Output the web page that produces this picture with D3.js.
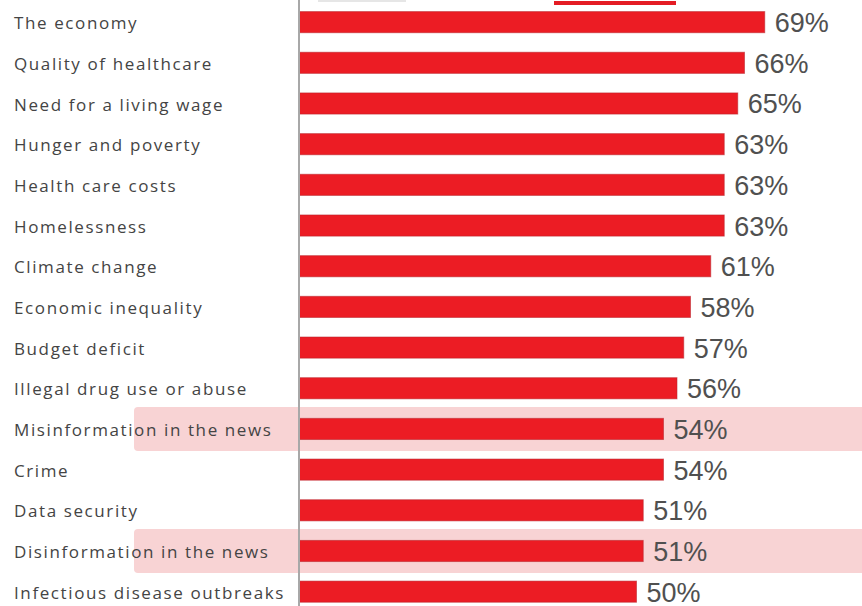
<!DOCTYPE html>
<html>
<head>
<meta charset="utf-8">
<script src="https://cdn.jsdelivr.net/npm/d3@7"></script>
<style>
  html, body { margin: 0; padding: 0; background: #fff; }
  svg { display: block; }
</style>
</head>
<body>
<svg id="chart" width="862" height="606"></svg>
<script>
// Issue list, top to bottom, with the share of respondents concerned (%)
const categories = [
  "The economy",
  "Quality of healthcare",
  "Need for a living wage",
  "Hunger and poverty",
  "Health care costs",
  "Homelessness",
  "Climate change",
  "Economic inequality",
  "Budget deficit",
  "Illegal drug use or abuse",
  "Misinformation in the news",
  "Crime",
  "Data security",
  "Disinformation in the news",
  "Infectious disease outbreaks"
];
const values = [69, 66, 65, 63, 63, 63, 61, 58, 57, 56, 54, 54, 51, 51, 50];
const highlighted = ["Misinformation in the news", "Disinformation in the news"];
const valueSuffix = "%";

const width = 862, height = 606;
const axisX = 299;
const labelX = 14;

const svg = d3.select("#chart");

const rows = categories.map((c, i) => ({ category: c, value: values[i] }));

const x = d3.scaleLinear().domain([0, 100]).range([axisX, axisX + 675]);
const y = d3.scaleBand().domain(categories).range([1.8, 612]).padding(0);
const barH = y.bandwidth() * 0.52;

// highlight strips behind the two news-related rows
svg.append("g")
  .selectAll("rect")
  .data(rows.filter(d => highlighted.includes(d.category)))
  .join("rect")
  .attr("x", 134)
  .attr("y", d => y(d.category) + y.bandwidth() / 2 - 22)
  .attr("width", width - 134 + 10)
  .attr("height", 44)
  .attr("rx", 4)
  .attr("fill", "#f8d3d4");

// short strokes along the top edge
svg.append("rect")
  .attr("x", 554).attr("y", 1).attr("width", 122).attr("height", 4)
  .attr("fill", "#e41c24");
svg.append("rect")
  .attr("x", 318).attr("y", 0).attr("width", 88).attr("height", 2)
  .attr("fill", "#e6e6e6");

// bars
svg.append("g")
  .selectAll("rect")
  .data(rows)
  .join("rect")
  .attr("x", x(0))
  .attr("y", d => y(d.category) + (y.bandwidth() - barH) / 2)
  .attr("width", d => x(d.value) - x(0))
  .attr("height", barH)
  .attr("fill", "#ec1c24")
  .attr("stroke", "#b8252b")
  .attr("stroke-width", 1)
  .attr("stroke-opacity", 0.55);

// category axis: labels left-aligned at the page margin
const axis = svg.append("g")
  .attr("transform", `translate(${axisX},0)`)
  .call(d3.axisLeft(y).tickSize(0).tickPadding(0));
axis.select(".domain").remove();
const labels = axis.selectAll(".tick text")
  .attr("text-anchor", "start")
  .attr("x", labelX - axisX)
  .attr("dy", "0.42em")
  .attr("fill", "#444444")
  .style("font-family", "'Open Sans', sans-serif")
  .style("font-size", "17px");

// widen tracking so the longest label spans the label column
let longest = null, longestLen = 0;
labels.each(function () {
  const len = this.getComputedTextLength();
  if (len > longestLen) { longestLen = len; longest = this; }
});
const targetWidth = 271;
const nChars = longest ? longest.textContent.length : 1;
const spacing = Math.max(0, (targetWidth - longestLen) / nChars);
labels.style("letter-spacing", spacing + "px");

// vertical axis rule
svg.append("line")
  .attr("x1", axisX).attr("x2", axisX)
  .attr("y1", 0).attr("y2", height)
  .attr("stroke", "#a8a8a8")
  .attr("stroke-width", 2);

// value labels at bar ends
svg.append("g")
  .selectAll("text")
  .data(rows)
  .join("text")
  .attr("x", d => x(d.value) + 10)
  .attr("y", d => y(d.category) + y.bandwidth() / 2)
  .attr("dy", "0.37em")
  .attr("fill", "#505050")
  .style("font-family", "'Liberation Sans', Arial, sans-serif")
  .style("font-size", "27px")
  .text(d => d.value + valueSuffix);
</script>
</body>
</html>
